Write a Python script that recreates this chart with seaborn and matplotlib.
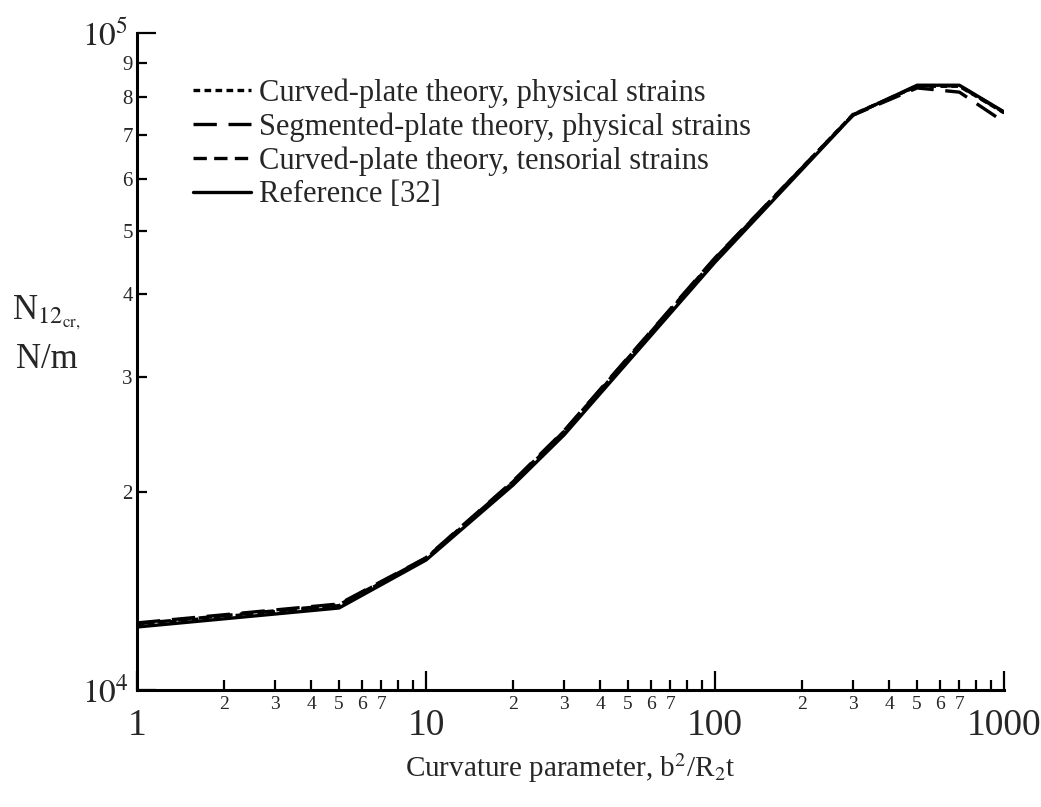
import matplotlib
matplotlib.use('Agg')
import matplotlib.pyplot as plt
import numpy as np
import seaborn as sns
import pandas as pd

# Curvature parameter b^2/R2t
x_vals = [1, 5, 10, 20, 30, 100, 300, 500, 700, 1000]

# N12cr, N/m
reference = [12470, 13330, 15770, 20510, 24440, 44810, 75000, 83300, 83300, 75850]
curved_physical = [12560, 13440, 15850, 20700, 24700, 45300, 75200, 83000, 83000, 75600]
segmented_physical = [12650, 13520, 15900, 20800, 24800, 45500, 75000, 82500, 81300, 73200]
curved_tensorial = [12610, 13480, 15880, 20750, 24750, 45400, 75100, 83100, 83100, 75700]

series_names = ['Curved-plate theory, physical strains',
                'Segmented-plate theory, physical strains',
                'Curved-plate theory, tensorial strains',
                'Reference [32]']
series_values = [curved_physical, segmented_physical, curved_tensorial, reference]

x_major = [1, 10, 100, 1000]
x_major_labels = ['1', '10', '100', '1000']
y_major = [1e4, 1e5]
y_major_labels = ['$10^4$', '$10^5$']

rows = []
for name, vals in zip(series_names, series_values):
    for x, y in zip(x_vals, vals):
        rows.append({'x': x, 'y': y, 'series': name})
df = pd.DataFrame(rows)

sns.set_style('ticks')
plt.rcParams['font.family'] = ['Liberation Serif', 'DejaVu Serif']
plt.rcParams['mathtext.fontset'] = 'stix'

fig = plt.figure(figsize=(10.41, 8.07), dpi=100)
ax = fig.add_axes([0.1316, 0.145, 0.833, 0.814])

dash_styles = {
    series_names[0]: (2, 1.3),
    series_names[1]: (7, 3.5),
    series_names[2]: (4, 2.2),
    series_names[3]: '',
}
sns.lineplot(data=df, x='x', y='y', style='series', dashes=dash_styles,
             color='black', linewidth=2.4, ax=ax, sort=False)

ax.set_xscale('log')
ax.set_yscale('log')
ax.set_xlim(1, 1000)
ax.set_ylim(1e4, 1e5)

ax.set_xticks(x_major)
ax.set_xticklabels(x_major_labels, fontsize=27)
x_minor = [d * m for d in [1, 10, 100] for m in range(2, 10)]
ax.set_xticks(x_minor, minor=True)
ax.set_xticklabels([str(m) if m <= 7 else '' for d in [1, 10, 100] for m in range(2, 10)],
                   minor=True, fontsize=14)

ax.set_yticks(y_major)
ax.set_yticklabels(y_major_labels, fontsize=24)
y_minor = [1e4 * m for m in range(2, 10)]
ax.set_yticks(y_minor, minor=True)
ax.set_yticklabels([str(m) for m in range(2, 10)], minor=True, fontsize=15)

ax.tick_params(which='major', direction='in', length=14, width=1.6, color='black')
ax.tick_params(which='minor', direction='in', length=7, width=1.6, color='black')
ax.tick_params(axis='x', which='major', pad=13)
ax.tick_params(axis='x', which='minor', pad=4)
ax.tick_params(axis='y', which='major', pad=6)
ax.tick_params(axis='y', which='minor', pad=3)

for s in ['top', 'right']:
    ax.spines[s].set_visible(False)
for s in ['left', 'bottom']:
    ax.spines[s].set_linewidth(2.2)
    ax.spines[s].set_color('black')

ax.set_xlabel('Curvature parameter, b$^2$/R$_2$t', fontsize=21, labelpad=6)
ax.set_ylabel('')
fig.text(0.045, 0.585, 'N$_{12_{\\mathrm{cr,}}}$\nN/m', fontsize=25,
         ha='center', va='center', linespacing=1.45)

leg = ax.legend(loc='upper left', bbox_to_anchor=(0.05, 0.95), frameon=False,
                fontsize=22, handlelength=1.9, handletextpad=0.27,
                labelspacing=0.15, borderaxespad=0)
for line in leg.get_lines():
    line.set_linewidth(2.4)

fig.savefig('out.png', dpi=100)
